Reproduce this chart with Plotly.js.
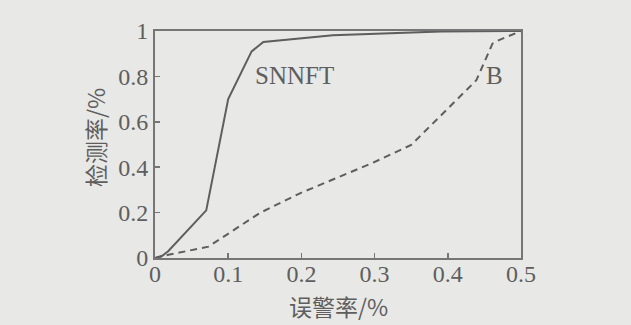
<!DOCTYPE html>
<html><head><meta charset="utf-8">
<script src="https://cdn.plot.ly/plotly-3.0.1.min.js"></script>
<style>html,body{margin:0;padding:0;background:#e8e8e6;}</style>
</head><body><div id="chart" style="width:631px;height:325px;"></div>
<script>
const snnftX = [0, 0.01, 0.018, 0.07, 0.1, 0.132, 0.148, 0.243, 0.391, 0.5];
const snnftY = [0, 0.01, 0.03, 0.21, 0.70, 0.91, 0.952, 0.981, 0.998, 1];
const bX = [0, 0.02, 0.073, 0.143, 0.198, 0.298, 0.350, 0.398, 0.439, 0.461, 0.47, 0.5];
const bY = [0, 0.015, 0.05, 0.198, 0.285, 0.42, 0.498, 0.652, 0.783, 0.944, 0.96, 1];
const xTicks = [0, 0.1, 0.2, 0.3, 0.4, 0.5];
const xTickText = ['0', '0.1', '0.2', '0.3', '0.4', '0.5'];
const yTicks = [0, 0.2, 0.4, 0.6, 0.8, 1];
const yTickText = ['0', '0.2', '0.4', '0.6', '0.8', '1'];
const xTitle = '误警率/%';
const yTitle = '检测率/%';
const seriesLabels = ['SNNFT', 'B'];

const col = '#5e5e5e';
const serif = 'Liberation Serif, Times New Roman, serif';
const cjk = 'Noto Sans CJK SC, sans-serif';

const traces = [
  {x: snnftX, y: snnftY, mode: 'lines', line: {color: col, width: 2}, name: seriesLabels[0]},
  {x: bX, y: bY, mode: 'lines', line: {color: col, width: 2, dash: '7px,5px'}, name: seriesLabels[1]}
];
const axisCommon = {
  showline: true, linecolor: '#767676', linewidth: 2, mirror: true,
  ticks: 'inside', ticklen: 5, tickwidth: 1.5, tickcolor: '#767676',
  showgrid: false, zeroline: false,
  tickfont: {family: serif, size: 24, color: col}
};
const layout = {
  width: 631, height: 325,
  margin: {l: 155, r: 110, t: 31, b: 67},
  paper_bgcolor: '#e8e8e6', plot_bgcolor: '#e8e8e6',
  showlegend: false,
  xaxis: Object.assign({}, axisCommon, {range: [0, 0.5], tickvals: xTicks, ticktext: xTickText, ticklabelstandoff: -7}),
  yaxis: Object.assign({}, axisCommon, {range: [0, 1], tickvals: yTicks, ticktext: yTickText}),
  annotations: [
    {text: seriesLabels[0], x: 0.191, y: 0.805, xref: 'x', yref: 'y', showarrow: false,
     font: {family: serif, size: 25, color: col}},
    {text: seriesLabels[1], x: 0.464, y: 0.805, xref: 'x', yref: 'y', showarrow: false,
     font: {family: serif, size: 25, color: col}},
    {text: xTitle, x: 0.5, y: -0.212, xref: 'paper', yref: 'paper', yanchor: 'middle', showarrow: false,
     font: {family: cjk, size: 23, color: col}},
    {text: yTitle, x: -0.164, y: 0.533, xref: 'paper', yref: 'paper', xanchor: 'center', textangle: -90, showarrow: false,
     font: {family: cjk, size: 23, color: col}}
  ]
};
Plotly.newPlot('chart', traces, layout, {displayModeBar: false, staticPlot: true});
</script></body></html>
